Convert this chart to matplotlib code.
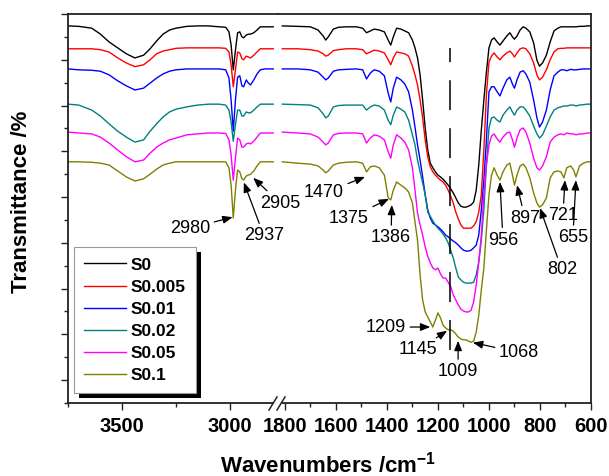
import matplotlib
matplotlib.use('Agg')
import matplotlib.pyplot as plt
from matplotlib.ticker import MultipleLocator
from matplotlib.patches import Rectangle
from matplotlib.lines import Line2D
from matplotlib.transforms import IdentityTransform

plt.rcParams['font.family'] = ['Liberation Sans', 'DejaVu Sans']
plt.rcParams['mathtext.fontset'] = 'custom'
plt.rcParams['mathtext.rm'] = 'Liberation Sans'
plt.rcParams['mathtext.bf'] = 'Liberation Sans:bold'

LABELS = ['S0', 'S0.005', 'S0.01', 'S0.02', 'S0.05', 'S0.1']
COLORS = ['#000000', '#ff0000', '#0000ff', '#008080', '#ff00ff', '#808000']

# wavenumber grids (cm-1) for the two segments of the broken axis
WN_HIGH = [3750, 3700, 3640, 3600, 3560, 3520, 3480, 3440, 3400, 3370,
           3340, 3310, 3280, 3250, 3200, 3150, 3100, 3050, 3020, 3005,
           2995, 2985, 2975, 2965, 2955, 2945, 2937, 2925, 2915, 2905,
           2890, 2875, 2860, 2840, 2800]
WN_LOW = [1810, 1750, 1700, 1670, 1650, 1640, 1630, 1610, 1590, 1560,
          1520, 1495, 1480, 1465, 1450, 1430, 1410, 1395, 1385, 1375,
          1362, 1345, 1330, 1315, 1300, 1290, 1280, 1270, 1260, 1250,
          1240, 1230, 1220, 1210, 1200, 1190, 1180, 1170, 1160, 1150,
          1140, 1130, 1120, 1110, 1100, 1090, 1080, 1070, 1060, 1050,
          1040, 1030, 1020, 1010, 1000, 990, 980, 968, 957, 945,
          930, 918, 908, 900, 890, 878, 866, 855, 840, 825,
          812, 802, 790, 775, 760, 745, 730, 718, 706, 695,
          680, 668, 659, 645, 630, 615, 600]

# stacked transmittance (a.u., offset)
S0_HIGH = [77.4, 77.3, 76.9, 75.6, 73.9, 72.6, 71.3, 70.4, 71.0, 72.4,
           74.1, 75.6, 76.5, 76.9, 77.3, 77.4, 77.4, 77.2, 77.1, 76.1,
           73.2, 67.8, 72.1, 75.9, 76.1, 75.0, 74.8, 75.4, 75.6, 75.6,
           75.9, 76.5, 77.2, 77.2, 77.2]
S0005_HIGH = [72.4, 72.4, 72.4, 72.2, 71.7, 70.4, 69.3, 68.5, 68.9, 70.0,
              71.3, 71.9, 72.2, 72.5, 72.6, 72.6, 72.6, 72.6, 72.5, 71.7,
              68.9, 64.1, 67.8, 71.7, 71.5, 70.2, 70.0, 70.8, 70.6, 70.4,
              71.0, 71.7, 72.4, 72.4, 72.4]
S001_HIGH = [68.0, 67.8, 67.7, 67.5, 66.7, 65.4, 64.3, 63.4, 63.8, 64.9,
             66.0, 66.9, 67.5, 67.8, 68.0, 68.0, 68.0, 68.0, 67.8, 66.0,
             61.2, 54.4, 61.2, 66.2, 66.5, 64.3, 64.1, 65.6, 64.9, 64.5,
             65.6, 66.9, 67.8, 68.0, 68.0]
S002_HIGH = [60.3, 60.1, 59.0, 57.7, 56.0, 54.4, 53.1, 52.0, 52.5, 54.4,
             56.0, 57.5, 58.6, 59.2, 59.7, 60.1, 60.3, 60.3, 60.1, 59.0,
             56.4, 52.2, 55.8, 59.0, 59.0, 57.7, 57.7, 58.6, 58.4, 58.4,
             59.0, 59.7, 60.3, 60.3, 60.3]
S005_HIGH = [54.2, 54.0, 53.8, 53.1, 51.8, 50.3, 48.8, 47.7, 48.1, 49.6,
             50.9, 51.8, 52.5, 52.9, 53.6, 53.8, 54.0, 54.0, 53.9, 52.5,
             49.2, 43.7, 48.5, 52.9, 52.5, 50.9, 50.9, 51.6, 51.8, 51.6,
             52.2, 53.1, 54.0, 54.0, 54.0]
S01_HIGH = [47.7, 47.7, 47.6, 47.4, 47.0, 45.7, 44.4, 43.5, 44.0, 45.0,
            46.1, 47.0, 47.4, 47.7, 47.7, 47.7, 47.7, 47.7, 47.7, 46.4,
            42.6, 35.4, 41.5, 45.9, 45.5, 44.0, 43.7, 44.6, 44.8, 45.0,
            45.7, 46.8, 47.7, 47.7, 47.7]

S0_LOW = [77.4, 77.3, 77.2, 76.5, 75.2, 74.3, 75.0, 76.7, 77.1, 77.2,
          77.2, 76.9, 75.9, 76.3, 76.7, 76.5, 76.1, 74.3, 73.2, 75.0,
          76.9, 76.7, 76.3, 75.9, 74.3, 72.6, 70.4, 66.7, 61.2, 55.1,
          50.3, 47.4, 46.4, 45.5, 44.8, 44.4, 43.9, 43.3, 42.6, 41.8,
          40.9, 39.8, 38.7, 38.0, 37.8, 37.8, 38.0, 38.3, 38.9, 41.5,
          47.0, 54.6, 61.2, 67.3, 72.6, 74.3, 74.8, 73.9, 73.2, 74.1,
          75.2, 75.9, 75.0, 74.5, 75.2, 76.5, 77.2, 76.9, 76.1, 73.7,
          69.9, 68.6, 69.3, 71.0, 73.9, 76.3, 76.9, 77.2, 77.2, 77.2,
          77.2, 77.2, 77.2, 77.3, 77.3, 77.4, 77.4]
S0005_LOW = [72.4, 72.4, 72.2, 71.9, 71.3, 70.8, 71.0, 72.0, 72.2, 72.4,
             72.4, 72.2, 71.3, 71.7, 72.1, 71.9, 71.5, 70.0, 68.9, 70.4,
             71.7, 71.5, 71.3, 70.8, 68.6, 66.7, 64.5, 61.2, 57.3, 52.5,
             48.8, 46.6, 45.5, 44.8, 44.2, 43.7, 43.3, 42.6, 41.5, 40.2,
             38.7, 36.7, 35.2, 33.9, 33.2, 33.2, 33.2, 33.2, 33.7, 34.6,
             36.7, 40.5, 50.3, 62.3, 69.5, 70.8, 71.5, 70.6, 70.0, 70.8,
             71.5, 71.9, 71.3, 70.6, 71.5, 72.4, 72.6, 72.4, 71.3, 69.3,
             66.7, 65.6, 66.2, 67.8, 70.0, 71.7, 72.4, 72.5, 72.5, 72.6,
             72.6, 72.6, 72.6, 72.6, 72.6, 72.6, 72.6]
S001_LOW = [68.0, 68.0, 67.8, 67.3, 66.2, 65.6, 66.0, 67.5, 67.8, 67.9,
            68.0, 67.8, 65.8, 67.1, 67.8, 67.5, 66.5, 62.7, 60.8, 63.8,
            66.2, 65.6, 64.7, 63.0, 59.0, 55.3, 51.4, 48.1, 44.4, 40.5,
            37.2, 35.4, 34.3, 33.9, 33.5, 33.0, 32.4, 31.7, 31.3, 30.8,
            30.4, 30.0, 29.5, 28.9, 28.4, 28.2, 28.2, 28.4, 28.9, 29.5,
            31.7, 37.2, 43.7, 52.5, 63.0, 64.1, 64.1, 63.0, 62.1, 63.8,
            65.6, 66.2, 64.7, 63.8, 65.6, 67.3, 67.6, 66.9, 65.1, 61.2,
            57.3, 55.3, 56.4, 59.0, 63.4, 66.5, 67.3, 67.8, 67.8, 67.6,
            67.9, 67.8, 67.8, 67.9, 68.0, 68.0, 68.0]
S002_LOW = [60.3, 60.2, 60.1, 59.5, 58.2, 57.3, 57.7, 59.7, 60.0, 60.1,
            60.1, 60.1, 59.0, 59.7, 60.1, 59.9, 59.0, 56.8, 55.8, 57.9,
            59.7, 59.2, 58.6, 56.8, 53.6, 51.4, 48.1, 45.5, 43.1, 40.5,
            36.7, 35.8, 34.8, 33.9, 33.2, 32.6, 31.9, 31.1, 30.0, 28.4,
            26.7, 24.5, 22.5, 21.9, 21.4, 21.2, 21.2, 21.2, 21.4, 23.0,
            25.8, 30.6, 37.2, 47.0, 55.1, 57.3, 57.5, 56.8, 56.4, 57.9,
            59.0, 59.7, 58.6, 57.9, 59.0, 59.7, 59.7, 59.0, 57.7, 55.5,
            53.8, 52.9, 53.6, 55.5, 57.5, 59.0, 59.5, 59.7, 59.9, 59.9,
            60.1, 60.1, 59.9, 60.1, 60.2, 60.3, 60.3]
S005_LOW = [54.2, 54.0, 53.8, 53.1, 52.0, 51.4, 51.8, 53.6, 53.9, 54.0,
            54.0, 53.8, 51.8, 52.9, 53.6, 53.3, 52.5, 49.9, 48.5, 51.4,
            53.6, 52.9, 52.0, 50.3, 46.4, 41.5, 36.5, 33.9, 31.7, 29.1,
            27.1, 25.6, 24.5, 24.1, 24.5, 23.2, 22.3, 22.3, 21.4, 20.4,
            18.6, 17.5, 16.4, 15.5, 15.1, 14.9, 14.9, 15.3, 17.1, 20.8,
            25.8, 31.7, 40.5, 47.0, 51.4, 53.3, 53.8, 52.7, 52.0, 53.1,
            54.0, 54.2, 52.5, 50.9, 52.9, 54.7, 55.1, 54.2, 51.8, 48.5,
            46.4, 45.9, 46.8, 48.8, 52.0, 53.1, 53.6, 53.8, 53.6, 54.0,
            53.8, 53.8, 53.6, 53.8, 53.8, 54.0, 54.0]
S01_LOW = [47.7, 47.4, 47.2, 46.8, 45.9, 45.3, 45.7, 47.0, 47.4, 47.6,
           47.7, 47.4, 45.5, 46.6, 46.8, 46.4, 44.8, 39.8, 39.4, 41.5,
           43.3, 42.6, 42.0, 41.1, 38.7, 34.6, 30.6, 23.0, 17.5, 14.9,
           13.8, 12.7, 11.6, 13.1, 14.7, 13.6, 12.0, 11.4, 11.0, 11.0,
           10.7, 10.1, 9.4, 9.0, 8.8, 8.8, 8.5, 8.3, 8.5, 10.5,
           14.2, 19.7, 24.5, 32.8, 40.5, 44.8, 46.4, 44.8, 43.7, 45.5,
           47.0, 47.4, 44.8, 42.6, 44.8, 46.8, 47.2, 46.4, 44.2, 40.9,
           38.7, 37.8, 38.3, 39.8, 44.2, 45.5, 45.7, 45.5, 44.2, 46.4,
           46.8, 45.9, 44.4, 46.8, 47.4, 47.7, 47.7]

HIGH = [S0_HIGH, S0005_HIGH, S001_HIGH, S002_HIGH, S005_HIGH, S01_HIGH]
LOW = [S0_LOW, S0005_LOW, S001_LOW, S002_LOW, S005_LOW, S01_LOW]

# peak annotations: label, text position (wn, T), arrow tip (wn, T)
PEAKS_HIGH = [('2980', 3185, 33.2, 2988, 35.6),
              ('2937', 2843, 31.5, 2936, 43.2),
              ('2905', 2768, 38.7, 2893, 44.2)]
PEAKS_LOW = [('1470', 1647, 40.9, 1486, 44.4),
             ('1375', 1549, 35.4, 1392, 39.6),
             ('1386', 1384, 31.1, 1381, 38.3),
             ('956', 945, 30.6, 957, 43.3),
             ('897', 859, 35.4, 890, 42.6),
             ('802', 714, 24.1, 800, 37.6),
             ('721', 710, 35.9, 702, 43.7),
             ('655', 671, 31.1, 659, 43.7),
             ('1209', 1404, 11.6, 1230, 11.6),
             ('1145', 1278, 6.6, 1164, 10.8),
             ('1009', 1121, 1.8, 1121, 8.6),
             ('1068', 882, 6.0, 1063, 8.2)]
DASH_WN = 1152
DASH_T = (6.6, 72.6)

W, H = 609, 476
fig = plt.figure(figsize=(W / 100, H / 100), dpi=100)
axL = fig.add_axes([68 / W, 1 - 403 / H, 210 / W, 389 / H])
axR = fig.add_axes([278 / W, 1 - 403 / H, 313 / W, 389 / H])
axR.patch.set_visible(False)

for ax in (axL, axR):
    ax.set_ylim(-5, 80)
    for s in ax.spines.values():
        s.set_linewidth(1.3)
        s.set_color('#222222')
axL.spines['right'].set_visible(False)
axR.spines['left'].set_visible(False)
axL.set_xlim(3750, 2778)
axR.set_xlim(1827, 600)

lines = []
for lab, col, yh, yl in zip(LABELS, COLORS, HIGH, LOW):
    ln, = axL.plot(WN_HIGH, yh, color=col, lw=1.0, label=lab)
    axR.plot(WN_LOW, yl, color=col, lw=1.0)
    lines.append(ln)

axR.plot([DASH_WN, DASH_WN], DASH_T, color='black', lw=1.1,
         linestyle=(0, (19.6, 11.8)))

# ticks
axL.xaxis.set_major_locator(MultipleLocator(500))
axL.xaxis.set_minor_locator(MultipleLocator(250))
axR.xaxis.set_major_locator(MultipleLocator(200))
axR.xaxis.set_minor_locator(MultipleLocator(100))
axL.yaxis.set_major_locator(MultipleLocator(10))
axL.yaxis.set_minor_locator(MultipleLocator(5))
axL.tick_params(axis='y', which='both', direction='out', labelleft=False,
                color='#222222', width=1.0)
axL.tick_params(axis='y', which='major', length=5)
axL.tick_params(axis='y', which='minor', length=3)
axR.tick_params(axis='y', which='both', left=False, labelleft=False)
for ax in (axL, axR):
    ax.tick_params(axis='x', which='both', direction='out', color='#222222', width=1.0)
    ax.tick_params(axis='x', which='major', length=5, labelsize=14.5, pad=5)
    ax.tick_params(axis='x', which='minor', length=3)
    for t in ax.get_xticklabels():
        t.set_fontweight('bold')

arrow = dict(arrowstyle='-|>,head_length=0.45,head_width=0.18', color='black',
             lw=0.9, shrinkA=1, shrinkB=0)
for ax, peaks in ((axL, PEAKS_HIGH), (axR, PEAKS_LOW)):
    for lab, tx, ty, px, py in peaks:
        ax.annotate(lab, xy=(px, py), xytext=(tx, ty), ha='center', va='center',
                    fontsize=13, arrowprops=arrow, annotation_clip=False)

leg = axL.legend(handles=lines, loc='upper left', bbox_to_anchor=(6 / 210, (403 - 247) / 389),
                 borderaxespad=0, prop={'weight': 'bold', 'size': 12.5},
                 handlelength=2.4, handletextpad=0.25, labelspacing=0.4,
                 borderpad=0.6, fancybox=False, framealpha=1)
leg.get_frame().set_edgecolor('#999999')
leg.get_frame().set_linewidth(0.8)

fig.text(22 / W, 1 - 202 / H, 'Transmittance /%', rotation=90, ha='center', va='center',
         fontsize=16, fontweight='bold')
fig.text(328 / W, 1 - 472 / H, r'Wavenumbers /cm$^{\mathbf{-1}}$', ha='center', va='baseline',
         fontsize=16, fontweight='bold')

fig.canvas.draw()
bb = leg.get_frame().get_window_extent()
shadow = Rectangle((bb.x0 + 5, bb.y0 - 5), bb.width, bb.height, transform=IdentityTransform(),
                   facecolor='black', edgecolor='none', zorder=4)
axL.add_artist(shadow)

# axis break marks
yb = H - 403
fig.add_artist(Rectangle((273.5, yb - 2), 7, 4, transform=IdentityTransform(),
                         facecolor='white', edgecolor='none', zorder=10))
for x0 in (269, 277):
    fig.add_artist(Line2D([x0, x0 + 8], [yb - 7, yb + 6], transform=IdentityTransform(),
                          color='#222222', lw=1.1, zorder=11))

fig.savefig('out.png', dpi=100)
